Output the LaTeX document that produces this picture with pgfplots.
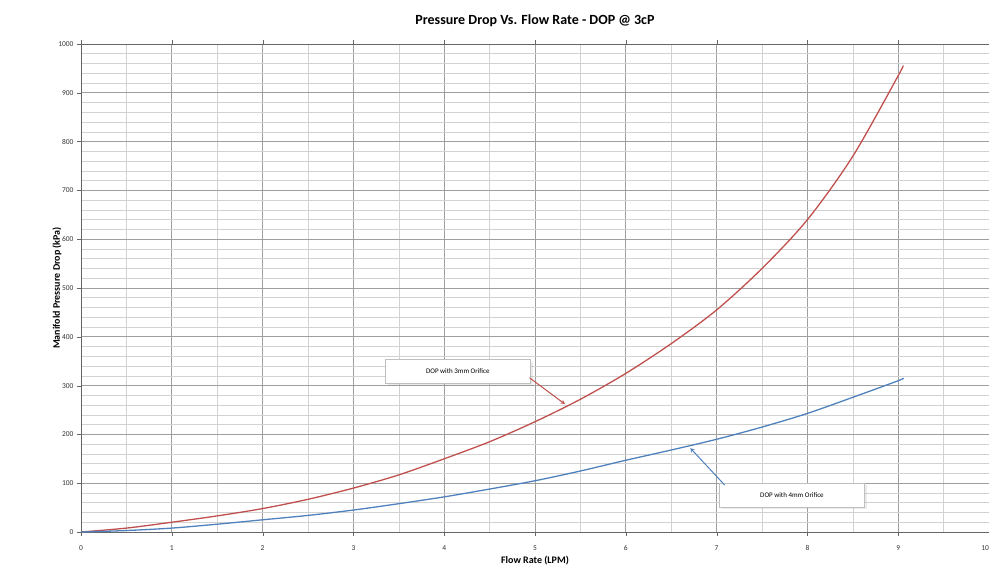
\documentclass[border=0pt]{standalone}
\usepackage{fontspec}
\setmainfont{Carlito}
\usepackage{pgfplots}
\pgfplotsset{compat=1.18}
\usetikzlibrary{shadows}
\definecolor{exred}{RGB}{192,80,77}
\definecolor{exblue}{RGB}{79,129,189}
\begin{document}
\begin{tikzpicture}
\begin{axis}[
    scale only axis,
    width=908pt, height=488pt,
    xmin=0, xmax=10, ymin=0, ymax=1000,
    xtick={0,1,...,10},
    xticklabels={0,1,2,3,4,5,6,7,8,9,\makebox[0pt][r]{10}},
    ytick={0,100,...,1000},
    minor x tick num=1,
    minor y tick num=4,
    grid=both,
    major grid style={gray!75, line width=0.8pt},
    minor grid style={gray!35, line width=0.6pt},
    axis line style={gray!80!black, line width=0.9pt},
    tick style={gray!80!black},
    minor tick length=0pt,
    major tick length=4pt,
    tick align=outside,
    /pgf/number format/assume math mode=true,
    /pgf/number format/1000 sep={},
    ticklabel style={font=\fontsize{7.5}{9}\selectfont, text=black!80},
    xticklabel style={yshift=-6pt},
    title={\textbf{Pressure Drop Vs. Flow Rate - DOP @ 3cP}},
    title style={font=\fontsize{14}{16}\selectfont, yshift=8pt},
    xlabel={\textbf{Flow Rate (LPM)}},
    ylabel={\textbf{Manifold Pressure Drop (kPa)}},
    label style={font=\fontsize{10}{12}\selectfont},
    xlabel style={yshift=2pt},
    ylabel style={yshift=-10pt},
]
\addplot[exred, line width=1.3pt, smooth] coordinates {
    (0,0) (0.5,8) (1,20) (1.5,33) (2,48) (2.5,67) (3,90) (3.5,117)
    (4,150) (4.5,185) (5,226) (5.5,272) (6,325) (6.5,386) (7,455)
    (7.5,540) (8,640) (8.5,770) (9,935) (9.05,955)
};
\addplot[exblue, line width=1.3pt, smooth] coordinates {
    (0,0) (0.5,3) (1,8) (1.5,16) (2,25) (2.5,34) (3,45) (3.5,58)
    (4,72) (4.5,88) (5,105) (5.5,125) (6,147) (6.5,168) (7,190)
    (7.5,215) (8,243) (8.5,276) (9,310) (9.05,315)
};
\node[draw=gray!50, fill=white, inner xsep=8pt, minimum height=24pt, minimum width=145pt,
      font=\fontsize{7}{8}\selectfont, drop shadow={opacity=0.15}] at (axis cs:4.15,329) {DOP with 3mm Orifice};
\draw[->, >=stealth, exred, line width=1pt] (axis cs:4.94,316) -- (axis cs:5.33,262);
\node[draw=gray!50, fill=white, inner xsep=8pt, minimum height=24pt, minimum width=145pt,
      font=\fontsize{7}{8}\selectfont, drop shadow={opacity=0.15}] at (axis cs:7.83,76) {DOP with 4mm Orifice};
\draw[->, >=stealth, exblue, line width=1pt] (axis cs:7.09,96) -- (axis cs:6.71,172);
\end{axis}
\pgfresetboundingbox
\path (-81pt,-47pt) rectangle (908pt,532pt);
\end{tikzpicture}
\end{document}
